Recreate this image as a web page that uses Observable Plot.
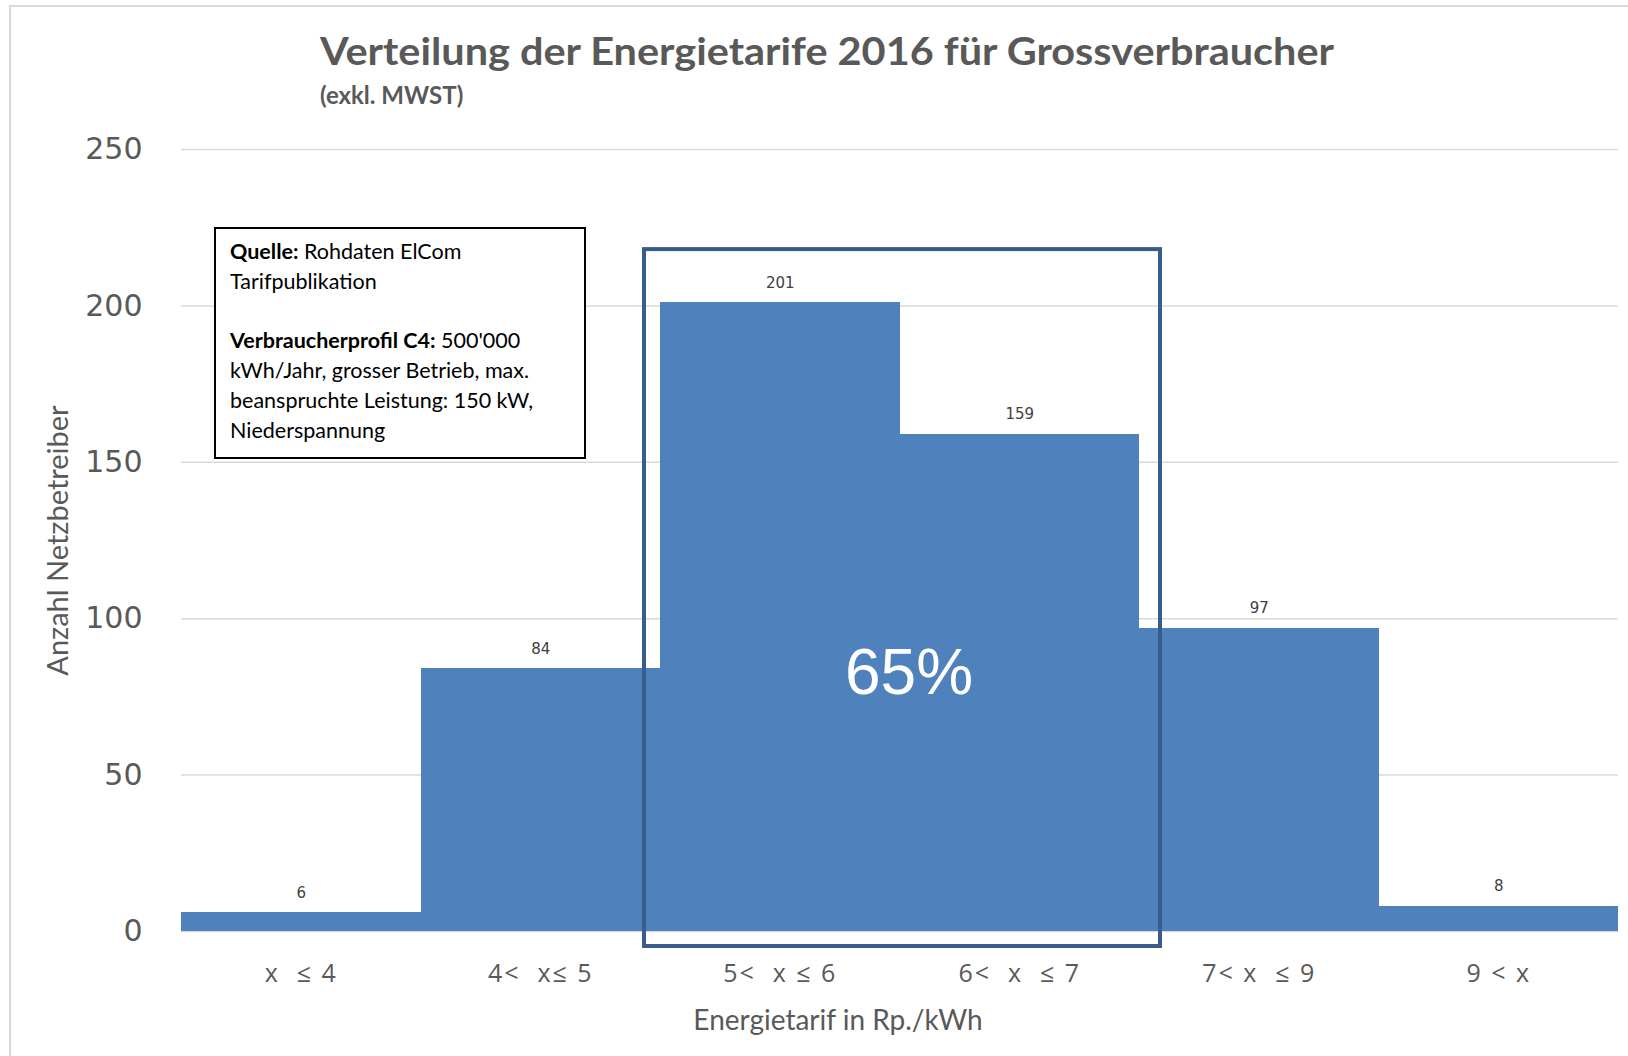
<!DOCTYPE html>
<html><head><meta charset="utf-8">
<script src="https://cdn.jsdelivr.net/npm/d3@7"></script>
<script src="https://cdn.jsdelivr.net/npm/@observablehq/plot@0.6"></script>
<style>
body{margin:0;background:#fff;}
#wrap{position:relative;width:1628px;height:1056px;overflow:hidden;background:#fff;}
#frame{position:absolute;left:9px;top:5px;right:-10px;bottom:-10px;border-left:2px solid #d9d9d9;border-top:2px solid #d9d9d9;pointer-events:none;}
#header{position:relative;height:120px;}
#title{position:absolute;left:320px;top:27px;font:bold 38px Lato;color:#595959;white-space:nowrap;transform-origin:0 0;}
#subtitle{position:absolute;left:320px;top:80px;font:bold 24px Lato;color:#595959;white-space:nowrap;}
#note{position:absolute;left:214px;top:227px;width:372px;height:232px;border:2px solid #000;box-sizing:border-box;padding:8px 0 0 14px;font:21.5px/29.8px Lato;color:#000;background:#fff;white-space:nowrap;}
svg text{white-space:pre;}
svg g[aria-label="x-axis tick label"] text{letter-spacing:2px;}
</style>
</head><body>
<div id="wrap">
  <div id="header">
    <div id="title">Verteilung der Energietarife 2016 für Grossverbraucher</div>
    <div id="subtitle">(exkl. MWST)</div>
  </div>
  <div id="chart"></div>
  <div id="note"><b>Quelle:</b> Rohdaten ElCom<br>Tarifpublikation<br><br><b>Verbraucherprofil C4:</b> 500'000<br>kWh/Jahr, grosser Betrieb, max.<br>beanspruchte Leistung: 150 kW,<br>Niederspannung</div>
  <div id="frame"></div>
</div>
<script>
// ---- data ----
const categories = ["x  ≤ 4", "4<  x≤ 5", "5<  x ≤ 6", "6<  x  ≤ 7", "7< x  ≤ 9", "9 < x"];
const counts = [6, 84, 201, 159, 97, 8];
const yTicks = [0, 50, 100, 150, 200, 250];
const highlightBins = ["5<  x ≤ 6", "6<  x  ≤ 7"];
const highlightTop = 218;
const highlightLabel = "65%";

const table = categories.map((c, i) => ({cat: c, i, n: counts[i]}));
const hi = highlightBins.map(c => categories.indexOf(c));
const highlight = [{x1: Math.min(...hi), x2: Math.max(...hi) + 1, y1: 0, y2: highlightTop}];

const plot = Plot.plot({
  width: 1628,
  height: 936,
  marginLeft: 181,
  marginRight: 10,
  marginTop: 29,
  marginBottom: 125,
  style: {fontFamily: "Lato", background: "#fff"},
  x: {domain: [0, categories.length], axis: null},
  y: {domain: [0, 250], axis: null},
  marks: [
    Plot.gridY(yTicks, {stroke: "#d9d9d9", strokeOpacity: 1, strokeWidth: 1.5}),
    Plot.rectY(table, {x1: "i", x2: d => d.i + 1, y: "n", fill: "#4f81bd", shapeRendering: "crispEdges"}),
    Plot.text(table, {x: d => d.i + 0.5, y: "n", text: d => String(d.n), dy: -20, fontSize: 15, fill: "#404040", fontFamily: "DejaVu Sans"}),
    Plot.rect(highlight, {x1: "x1", x2: "x2", y1: "y1", y2: "y2", fill: "none", stroke: "#385d8a", strokeWidth: 4, insetLeft: -16, insetRight: -21, insetBottom: -15}),
    Plot.text([highlightLabel], {x: highlight[0].x1 + (highlight[0].x2 - highlight[0].x1) / 2, y: 0, dx: 9, dy: -258, fontSize: 64, fill: "#fff", fontFamily: "Liberation Sans", lineAnchor: "middle"}),
    Plot.axisY({ticks: yTicks, tickSize: 0, tickPadding: 39, fontSize: 30, fontFamily: "DejaVu Sans", color: "#595959", label: null}),
    Plot.axisX({ticks: table.map(d => d.i + 0.5), tickFormat: d => categories[Math.floor(d)], tickSize: 0, tickPadding: 33, fontSize: 25, fontFamily: "Open Sans", color: "#595959", label: null}),
    Plot.text(["Anzahl Netzbetreiber"], {frameAnchor: "left", dx: -123, rotate: -90, fontSize: 29, fill: "#595959", textAnchor: "middle", lineAnchor: "middle"}),
    Plot.text(["Energietarif in Rp./kWh"], {frameAnchor: "bottom", dx: -62, dy: 90, fontSize: 28, fill: "#595959", textAnchor: "middle", lineAnchor: "middle"})
  ]
});
document.getElementById("chart").appendChild(plot);

// fit title to reference width
const t = document.getElementById("title");
const w = t.getBoundingClientRect().width;
t.style.transform = `scaleX(${1014 / w})`;
</script>
</body></html>
